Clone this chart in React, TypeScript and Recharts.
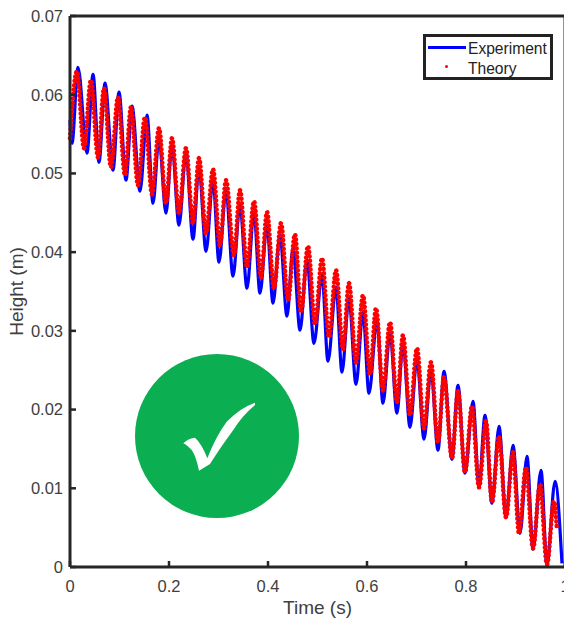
import React from "react";
import { LineChart, Line, XAxis, YAxis, Legend } from "recharts";

const xTicks = [0, 0.2, 0.4, 0.6, 0.8, 1];
const yTicks = [0, 0.01, 0.02, 0.03, 0.04, 0.05, 0.06, 0.07];

const experimentTimes = [0,0.004,0.0162,0.0343,0.0465,0.0586,0.0707,0.0869,0.099,0.1131,0.1253,0.1414,0.1556,0.1677,0.1798,0.1939,0.2061,0.2202,0.2343,0.2485,0.2606,0.2748,0.2889,0.301,0.3152,0.3293,0.3434,0.3576,0.3717,0.3838,0.398,0.4101,0.4242,0.4384,0.4505,0.4647,0.4788,0.4929,0.5091,0.5212,0.5374,0.5495,0.5636,0.5778,0.5919,0.604,0.6202,0.6323,0.6465,0.6606,0.6727,0.6869,0.701,0.7152,0.7293,0.7434,0.7556,0.7717,0.7838,0.798,0.8141,0.8263,0.8384,0.8525,0.8667,0.8808,0.895,0.9091,0.9232,0.9354,0.9515,0.9636,0.9798,0.9939];
const experimentHeights = [0.05676,0.05384,0.06349,0.05257,0.0626,0.05142,0.06146,0.05041,0.06032,0.04914,0.05854,0.04774,0.0574,0.04621,0.05447,0.04494,0.05358,0.04342,0.05257,0.04164,0.05079,0.04011,0.04914,0.03872,0.04787,0.03694,0.04596,0.03541,0.04507,0.03478,0.04342,0.03351,0.04215,0.03186,0.0405,0.03008,0.03897,0.02842,0.03707,0.02614,0.03554,0.02474,0.03414,0.02321,0.03236,0.02207,0.03135,0.0208,0.0297,0.01953,0.02842,0.01775,0.02639,0.01623,0.02499,0.01483,0.02487,0.01368,0.02309,0.01191,0.02105,0.01013,0.01928,0.00809,0.01788,0.00632,0.01546,0.00428,0.01407,0.00225,0.01229,0.00022,0.01089,0.00047];

const theoryTimes = [0,0.0141,0.0283,0.0424,0.0566,0.0687,0.0828,0.097,0.1111,0.1232,0.1374,0.1515,0.1657,0.1798,0.1939,0.2061,0.2202,0.2343,0.2485,0.2606,0.2748,0.2889,0.303,0.3152,0.3313,0.3434,0.3576,0.3717,0.3859,0.398,0.4121,0.4263,0.4404,0.4545,0.4667,0.4808,0.495,0.5091,0.5232,0.5374,0.5515,0.5636,0.5778,0.5919,0.6061,0.6182,0.6323,0.6465,0.6606,0.6727,0.6869,0.701,0.7152,0.7293,0.7434,0.7556,0.7717,0.7838,0.798,0.8121,0.8263,0.8404,0.8525,0.8667,0.8808,0.895,0.9071,0.9212,0.9354,0.9495,0.9636,0.9778,0.9838];
const theoryHeights = [0.05447,0.06299,0.0532,0.06184,0.05206,0.06083,0.05079,0.05968,0.04977,0.05841,0.0485,0.05714,0.04736,0.05574,0.04621,0.05447,0.04494,0.0532,0.04367,0.05193,0.0424,0.05053,0.04088,0.04914,0.03961,0.04787,0.03808,0.04647,0.03681,0.04507,0.03541,0.04367,0.03389,0.04227,0.03236,0.04075,0.03084,0.03922,0.02919,0.0377,0.02766,0.03605,0.02601,0.03452,0.02449,0.03287,0.02245,0.03109,0.02093,0.02944,0.01928,0.02779,0.01762,0.02601,0.01585,0.0241,0.01381,0.02233,0.01203,0.02042,0.01013,0.01851,0.00822,0.01661,0.00632,0.01457,0.00428,0.01267,0.00238,0.01051,0.00034,0.00835,0.00466];

const experiment = experimentTimes.map((t, i) => ({ t, h: experimentHeights[i] }));
const theory = theoryTimes.map((t, i) => ({ t, h: theoryHeights[i] }));

const FONT = "'Liberation Sans', Arial, sans-serif";
const AXIS = "#262626";
const TEXT = "#404040";

function LegendBox() {
  return (
    <div style={{ boxSizing: "border-box", width: 130, height: 46, border: "3px solid #222", background: "#fff", position: "relative", fontFamily: FONT, fontSize: 15.6, color: "#222", lineHeight: "20px" }}>
      <div style={{ position: "absolute", left: 2, top: 9, width: 38, height: 3, background: "#0000ff" }} />
      <div style={{ position: "absolute", left: 42, top: 1.5 }}>Experiment</div>
      <div style={{ position: "absolute", left: 19, top: 28, width: 3.4, height: 3.4, borderRadius: "50%", background: "#f00" }} />
      <div style={{ position: "absolute", left: 42, top: 21.5 }}>Theory</div>
    </div>
  );
}

function Badge() {
  return (
    <svg width={564} height={621} style={{ position: "absolute", left: 0, top: 0, pointerEvents: "none" }}>
      <circle cx={217} cy={436} r={82} fill="#0bae50" />
      <path d="M183.3 443.3 Q189 438 195 437.7 Q202 444 207.3 458.3 Q216 436 226.7 421.7 Q240 408 255 402.7 L255 405 Q242 416 234 429 Q220 448 210 464 L199 470.7 Q196 456 191.7 450 Q187 445 183.3 443.3 Z" fill="#fff" />
    </svg>
  );
}

export default function App() {
  const tickStyle = { fill: TEXT, fontSize: 16.5, fontFamily: FONT };
  const axisLine = { stroke: AXIS, strokeWidth: 3 };
  const tickLine = { stroke: AXIS, strokeWidth: 2.5 };
  return (
    <div style={{ position: "absolute", left: 0, top: 0, width: 564, height: 621, overflow: "hidden", background: "#fff" }}>
      <LineChart width={600} height={621} margin={{ top: 15, right: 34, bottom: 53, left: 0 }}>
        <XAxis xAxisId="b" type="number" dataKey="t" domain={[0, 1]} ticks={xTicks} height={1} tickSize={-6} tickMargin={19} interval={0}
          tick={tickStyle} axisLine={axisLine} tickLine={tickLine}
          label={{ value: "Time (s)", position: "bottom", offset: 33, fill: TEXT, fontSize: 19, fontFamily: FONT }} />
        <XAxis xAxisId="t" orientation="top" type="number" dataKey="t" domain={[0, 1]} ticks={xTicks} height={1} tickSize={-6} interval={0}
          tickFormatter={() => ""} axisLine={axisLine} tickLine={tickLine} />
        <YAxis yAxisId="l" type="number" domain={[0, 0.07]} ticks={yTicks} width={70} tickSize={-6} tickMargin={13} interval={0}
          tick={tickStyle} axisLine={axisLine} tickLine={tickLine}
          label={{ value: "Height (m)", angle: -90, position: "insideLeft", offset: 8, fill: TEXT, fontSize: 19, fontFamily: FONT, dx: 8, style: { textAnchor: "middle" } }} />
        <YAxis yAxisId="r" orientation="right" type="number" domain={[0, 0.07]} ticks={yTicks} width={1} tickSize={-6} interval={0}
          tickFormatter={() => ""} axisLine={axisLine} tickLine={tickLine} />
        <Legend layout="horizontal" verticalAlign="middle" content={() => <LegendBox />}
          wrapperStyle={{ position: "absolute", left: 423, top: 34, width: 130, height: 46, right: "auto", bottom: "auto" }} />
        <Line xAxisId="b" yAxisId="l" name="Experiment" data={experiment} dataKey="h" type="monotone" stroke="#0000ff" strokeWidth={3.2} dot={false} isAnimationActive={false} />
        <Line xAxisId="b" yAxisId="l" name="Theory" data={theory} dataKey="h" type="monotone" stroke="#ff0000" strokeWidth={4.6} strokeDasharray="0.01 4.4" strokeLinecap="round" dot={false} isAnimationActive={false} />
      </LineChart>
      <Badge />
    </div>
  );
}
